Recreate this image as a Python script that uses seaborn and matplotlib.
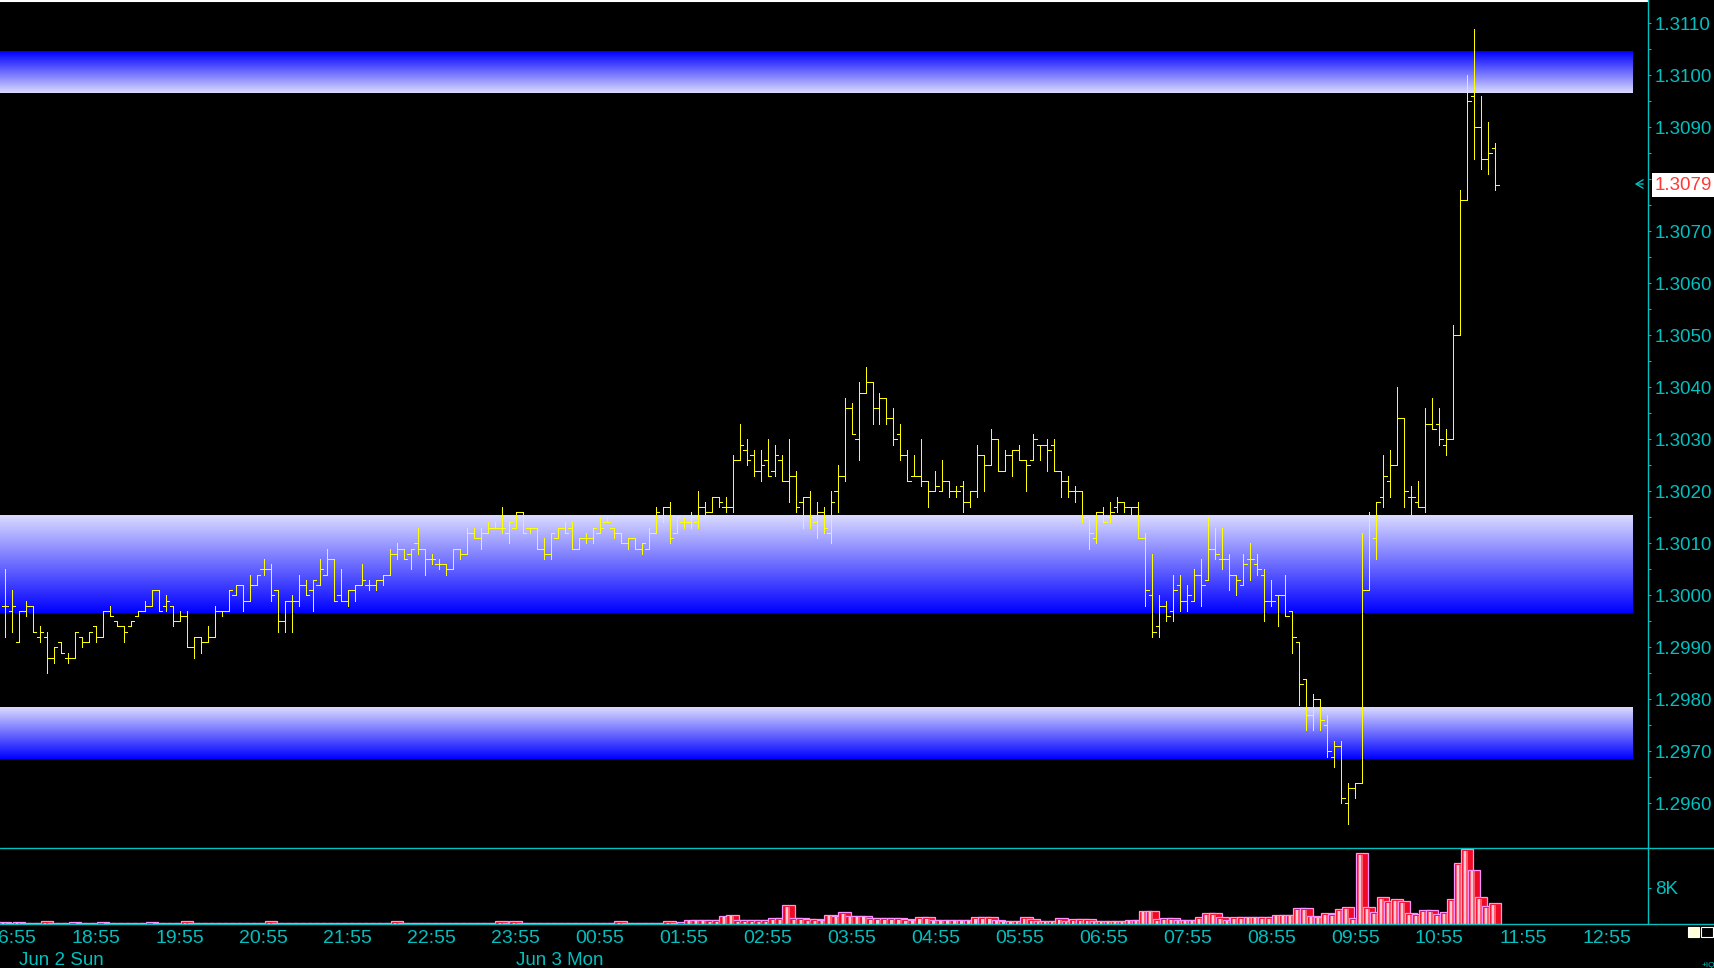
import numpy as np
import pandas as pd
import matplotlib
matplotlib.use("Agg")
import matplotlib.pyplot as plt
from matplotlib.lines import Line2D
from matplotlib.patches import Rectangle
import seaborn as sns

# 5-minute bars, prices read as pips above 1.3000
open_pips = [
    -2, -3, -9, -3, -2, -8, -8, -12, -9, -12,
    -12, -8, -9, -6, -8, -3, -5, -6, -6, -4,
    -3, -2, 1, -2, -2, -5, -4, -10, -8, -9,
    -8, -3, -3, 0, 2, -1, 2, 5, 5, 1,
    -5, -1, -1, 2, 1, 2, 4, 7, 0, -1,
    1, 2, 2, 2, 3, 4, 8, 9, 8, 10,
    9, 7, 6, 6, 5, 9, 8, 12, 11, 12,
    13, 13, 12, 13, 16, 13, 13, 9, 8, 11,
    13, 13, 9, 11, 11, 12, 14, 13, 12, 10,
    11, 9, 9, 12, 15, 17, 12, 14, 14, 14,
    17, 16, 19, 17, 17, 26, 28, 27, 24, 26,
    24, 26, 22, 23, 18, 19, 14, 16, 12, 20,
    23, 36, 30, 39, 41, 36, 38, 34, 31, 27,
    23, 23, 22, 20, 20, 22, 20, 21, 18, 20,
    27, 25, 30, 24, 27, 28, 26, 26, 29, 29,
    29, 24, 22, 20, 20, 15, 11, 16, 15, 17,
    18, 17, 17, 11, 0, -6, -2, -3, 2, -1,
    -1, 4, 3, 9, 7, 7, 4, 2, 7, 6,
    4, -1, 0, 0, -3, -9, -16, -23, -20, -25,
    -31, -29, -40, -37, -36, 1, 11, 19, 22, 25,
    34, 19, 18, 17, 33, 33, 29, 30, 50, 76,
    96, 90, 84, 86,
]
high_pips = [
    5, 1, -3, -1, -2, -6, -7, -10, -9, -11,
    -7, -8, -7, -6, -3, -2, -5, -6, -5, -3,
    -1, 1, 1, 0, -2, -3, -3, -8, -8, -6,
    -2, -3, 1, 2, 2, 4, 4, 7, 6, 1,
    -1, 0, 4, 3, 3, 7, 9, 7, 5, 1,
    2, 6, 3, 3, 4, 9, 10, 9, 9, 13,
    9, 8, 7, 6, 9, 9, 13, 13, 13, 14,
    14, 17, 14, 16, 16, 13, 13, 11, 12, 13,
    14, 14, 11, 12, 13, 15, 15, 13, 12, 11,
    11, 10, 13, 17, 17, 18, 15, 15, 16, 20,
    18, 19, 19, 19, 27, 33, 30, 28, 28, 30,
    29, 27, 30, 24, 19, 20, 18, 17, 20, 25,
    38, 37, 41, 44, 41, 39, 38, 36, 33, 28,
    27, 30, 22, 24, 26, 22, 21, 22, 20, 29,
    27, 32, 30, 28, 28, 29, 26, 31, 29, 30,
    30, 24, 23, 21, 20, 15, 16, 17, 18, 19,
    18, 17, 18, 12, 8, 0, -1, 4, 4, 2,
    5, 7, 15, 13, 13, 8, 4, 8, 10, 8,
    5, 3, 0, 4, -3, -9, -16, -19, -20, -23,
    -28, -28, -36, -36, 12, 16, 18, 27, 28, 40,
    34, 21, 22, 36, 38, 36, 32, 52, 78, 100,
    109, 96, 91, 87,
]
low_pips = [
    -8, -7, -9, -4, -7, -9, -15, -13, -11, -13,
    -12, -10, -9, -9, -8, -4, -6, -9, -6, -4,
    -3, -2, -3, -3, -6, -5, -10, -12, -11, -9,
    -8, -4, -3, 0, -3, -1, 2, 4, -1, -7,
    -7, -7, -2, 0, -3, 2, 4, -1, -1, -2,
    -1, 2, 1, 1, 2, 4, 7, 7, 5, 8,
    4, 6, 5, 4, 5, 7, 8, 11, 9, 12,
    13, 12, 10, 13, 12, 12, 9, 7, 7, 11,
    12, 9, 9, 10, 10, 12, 14, 11, 10, 9,
    9, 8, 9, 12, 14, 10, 12, 13, 13, 13,
    15, 16, 17, 16, 16, 26, 25, 23, 22, 23,
    23, 22, 18, 16, 13, 13, 11, 12, 10, 16,
    22, 31, 26, 39, 33, 33, 33, 29, 26, 22,
    23, 21, 17, 20, 20, 19, 19, 16, 17, 19,
    20, 25, 24, 24, 23, 26, 20, 26, 26, 24,
    24, 19, 19, 18, 14, 9, 10, 14, 14, 16,
    16, 15, 11, -2, -8, -8, -5, -5, -3, -3,
    -1, -2, 3, 7, 5, 1, 0, 2, 3, 4,
    -5, -2, -6, -4, -11, -21, -26, -26, -26, -31,
    -33, -40, -44, -39, -36, 1, 7, 17, 19, 25,
    17, 15, 17, 16, 32, 29, 27, 30, 50, 76,
    84, 82, 81, 78,
]
close_pips = [
    -2, -2, -3, -2, -7, -7, -12, -10, -11, -12,
    -7, -9, -7, -8, -3, -4, -6, -7, -5, -3,
    -2, 1, -3, -1, -5, -4, -10, -8, -9, -8,
    -3, -3, 1, 2, -1, 2, 4, 5, 0, -5,
    -1, -1, 2, 0, 3, 5, 7, -1, -1, 1,
    2, 3, 2, 3, 4, 8, 9, 7, 9, 9,
    7, 7, 6, 5, 9, 8, 12, 11, 12, 13,
    13, 13, 14, 16, 12, 13, 9, 8, 12, 13,
    12, 9, 11, 11, 13, 13, 14, 12, 10, 11,
    9, 10, 12, 16, 17, 11, 15, 14, 15, 17,
    16, 19, 18, 17, 26, 29, 26, 24, 25, 23,
    27, 22, 23, 17, 19, 15, 16, 13, 18, 23,
    36, 31, 39, 41, 36, 38, 34, 30, 27, 22,
    23, 22, 20, 21, 22, 20, 20, 18, 20, 27,
    25, 30, 24, 27, 28, 26, 25, 30, 29, 28,
    24, 22, 20, 20, 15, 12, 16, 14, 16, 18,
    17, 17, 11, 1, -7, -2, -4, 1, -1, 0,
    4, 2, 9, 8, 7, 4, 3, 6, 7, 5,
    -1, -1, 0, -4, -8, -17, -23, -20, -24, -30,
    -29, -39, -37, -36, 1, 15, 18, 23, 25, 34,
    20, 19, 17, 33, 32, 30, 30, 50, 76, 95,
    90, 84, 85, 79,
]
volume = [
    500, 250, 500, 250, 200, 250, 600, 250, 200, 250,
    400, 250, 200, 250, 400, 250, 250, 200, 250, 250,
    250, 400, 250, 250, 250, 300, 600, 300, 250, 250,
    250, 250, 250, 250, 250, 250, 250, 300, 600, 300,
    250, 250, 250, 250, 250, 300, 250, 250, 250, 250,
    250, 250, 250, 250, 250, 300, 600, 300, 250, 250,
    250, 250, 300, 250, 250, 250, 300, 250, 250, 300,
    300, 600, 300, 600, 300, 300, 250, 300, 300, 250,
    300, 300, 250, 300, 300, 250, 300, 300, 600, 300,
    300, 300, 300, 300, 300, 600, 300, 400, 900, 1000,
    1000, 800, 800, 1800, 2100, 800, 800, 800, 800, 800,
    1260, 1260, 4200, 1260, 1260, 1040, 1040, 1000, 2000, 1800,
    2600, 1800, 1800, 1800, 1260, 1260, 1260, 1260, 1260, 1040,
    900, 1480, 1480, 900, 900, 900, 900, 900, 900, 1480,
    1480, 1480, 900, 700, 700, 700, 1480, 1040, 700, 700,
    700, 1260, 700, 1040, 1040, 1040, 740, 740, 740, 740,
    740, 1000, 1000, 3000, 3000, 1040, 1260, 1260, 900, 900,
    900, 1500, 2400, 2400, 1500, 1000, 1480, 1480, 1630, 1630,
    1480, 1480, 2000, 2000, 2000, 3500, 3480, 1850, 1630, 2370,
    2150, 3260, 3700, 1260, 15700, 3700, 2600, 5900, 5100, 5480,
    5030, 2370, 2150, 3030, 3030, 2150, 2600, 5480, 13500, 16570,
    12100, 5900, 3900, 4590,
]
base_price = 1.3000
first_bar = "2013-06-02 17:50"
last_price = "1.3079"

# supply / demand zones
zone_low = [1.30965, 1.29965, 1.29685]
zone_high = [1.31045, 1.30152, 1.29784]
zone_end = "2013-06-03 13:13"

price_ticks = [1.2960, 1.2970, 1.2980, 1.2990, 1.3000, 1.3010, 1.3020, 1.3030,
               1.3040, 1.3050, 1.3060, 1.3070, 1.3080, 1.3090, 1.3100, 1.3110]
time_labels = ["16:55", "18:55", "19:55", "20:55", "21:55", "22:55", "23:55",
               "00:55", "01:55", "02:55", "03:55", "04:55", "05:55", "06:55",
               "07:55", "08:55", "09:55", "10:55", "11:55", "12:55"]
day_labels = ["Jun 2 Sun", "Jun 3 Mon"]

# ---- setup
sns.set_style("dark", {"axes.facecolor": "black", "figure.facecolor": "black",
                       "axes.grid": False})
plt.rcParams["font.family"] = ["Liberation Sans", "DejaVu Sans"]

W, H = 1714, 968
cyan = "#00c0c0"
yellow = "#ffff00"

ref = pd.Timestamp("2013-06-02 18:55")
times = pd.date_range(first_bar, periods=len(close_pips), freq="5min")
x = ((times - ref) / pd.Timedelta(minutes=1)).to_numpy()
o = base_price + np.array(open_pips) / 10000
h = base_price + np.array(high_pips) / 10000
l = base_price + np.array(low_pips) / 10000
c = base_price + np.array(close_pips) / 10000
vol = np.array(volume, dtype=float)

px_per_min = 1.3991
x_left = -96 / px_per_min
x_right = x_left + 1648 / px_per_min
zone_x1 = (pd.Timestamp(zone_end) - ref) / pd.Timedelta(minutes=1)

fig = plt.figure(figsize=(W / 100, H / 100), dpi=100, facecolor="black")
ax = fig.add_axes([0, (H - 848) / H, 1648 / W, 848 / H])
axv = fig.add_axes([0, (H - 924) / H, 1648 / W, 76 / H])
for a in (ax, axv):
    a.set_facecolor("black")
    for s in a.spines.values():
        s.set_visible(False)

# ---- zones
light = np.array([218, 218, 255]) / 255
blue = np.array([0, 0, 255]) / 255
t = np.linspace(0, 1, 128)[:, None]
for i, (lo, hi) in enumerate(zip(zone_low, zone_high)):
    grad = light * (1 - t) + blue * t          # bottom light -> top blue
    if i > 0:
        grad = grad[::-1]                      # dark at the bottom
    ax.imshow(grad[:, None, :], extent=[x_left, zone_x1, lo, hi], origin="lower",
              aspect="auto", interpolation="bilinear", zorder=1)

# ---- OHLC bars (1 px lines)
tk = 2.45
lw = 0.72
ax.vlines(x, l, h, colors=yellow, linewidth=lw, antialiased=False, zorder=3)
ax.hlines(o, x - tk, x, colors=yellow, linewidth=lw, antialiased=False, zorder=3)
ax.hlines(c, x, x + tk, colors=yellow, linewidth=lw, antialiased=False, zorder=3)

ax.set_xlim(x_left, x_right)
ax.set_ylim(1.3110 - 824.7 / 52000, 1.3110 + 23.3 / 52000)
ax.set_xticks([])
ax.yaxis.tick_right()
ax.set_yticks(price_ticks)
ax.set_yticklabels([f"{v:.4f}" for v in price_ticks])
ax.set_yticks(np.array(price_ticks[:-1]) + 0.0005, minor=True)
ax.tick_params(axis="y", which="both", colors=cyan, direction="out", length=2.3,
               width=0.75, pad=2.8, labelsize=13.5)

# ---- volume (cylinder-like shading with stacked seaborn bars)
sns.barplot(x=x, y=vol, native_scale=True, width=1.8, color="#ee0a22",
            saturation=1, edgecolor="#ff90ff", linewidth=0.9, errorbar=None, ax=axv)
shade = np.clip(vol - 330, 0, None)
sns.barplot(x=x - 1.0, y=shade, native_scale=True, width=0.7, color="#ff5c72",
            saturation=1, linewidth=0, errorbar=None, ax=axv)
sns.barplot(x=x - 1.4, y=shade, native_scale=True, width=0.3, color="#ffc8d4",
            saturation=1, linewidth=0, errorbar=None, ax=axv)
axv.set_xlabel("")
axv.set_ylabel("")
axv.set_xlim(x_left, x_right)
axv.set_ylim(0, 76 * 8000 / 36)
axv.yaxis.tick_right()
axv.set_yticks([8000])
axv.set_yticklabels(["8K"])
axv.tick_params(axis="y", colors=cyan, direction="out", length=2.3, width=0.75,
                pad=2.8, labelsize=13.5)
hour_ticks = np.arange(-60, 1081, 60)
axv.set_xticks(hour_ticks)
axv.set_xticklabels(time_labels)
axv.set_xticks(hour_ticks[:-1] + 30, minor=True)
axv.tick_params(axis="x", which="both", colors=cyan, direction="out", length=2.5,
                width=0.75, pad=2.0, labelsize=14)

# ---- frame lines
def fx(px):
    return px / W

def fy(py):
    return 1 - py / H

fig.add_artist(Line2D([0, fx(1648)], [fy(1), fy(1)], color="white", lw=1.5))
fig.add_artist(Line2D([0, 1], [fy(848), fy(848)], color=cyan, lw=1.0))
fig.add_artist(Line2D([0, 1], [fy(924), fy(924)], color=cyan, lw=1.0))
fig.add_artist(Line2D([fx(1648), fx(1648)], [fy(0), fy(924)], color=cyan, lw=1.0))

# day labels
fig.text(fx(19), fy(965), day_labels[0], color=cyan, fontsize=13.5, va="baseline")
fig.text(fx(516), fy(965), day_labels[1], color=cyan, fontsize=13.5, va="baseline")

# last price marker
fig.add_artist(Rectangle((fx(1652), fy(197)), fx(62), 24 / H, facecolor="white",
                         edgecolor="none", zorder=5))
fig.text(fx(1655), fy(185), last_price, color="#ff3838", fontsize=13.5,
         va="center", zorder=6)
ax.annotate("", xy=(1632, H - 184), xycoords="figure pixels",
            xytext=(1646, H - 184), textcoords="figure pixels",
            arrowprops=dict(arrowstyle="->,head_length=0.5,head_width=0.3",
                            color=cyan, lw=1.0))

# small window icons bottom right
fig.add_artist(Rectangle((fx(1688), fy(937)), fx(11), 10 / H, facecolor="#ffffd8",
                         edgecolor="white", lw=0.8))
fig.add_artist(Rectangle((fx(1701), fy(937)), fx(12), 10 / H, facecolor="none",
                         edgecolor="white", lw=0.8))
fig.text(fx(1702), fy(967), "+IQ", color=cyan, fontsize=6, va="baseline")

fig.savefig("out.png", dpi=100, facecolor="black")
